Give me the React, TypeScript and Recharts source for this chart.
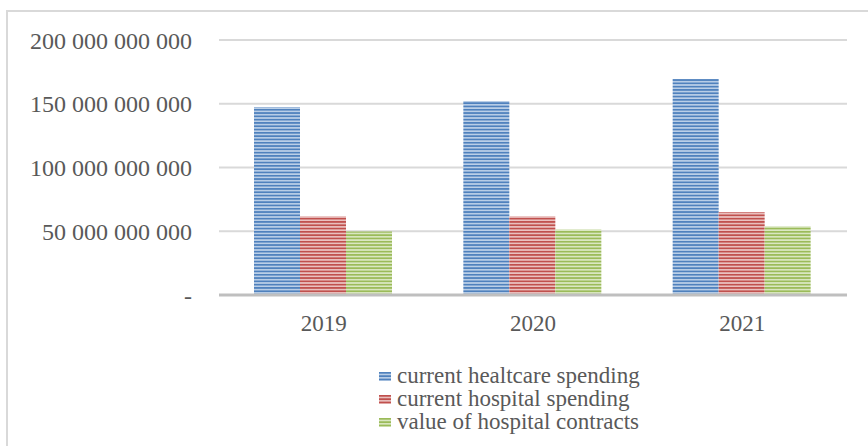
import React from 'react';
import { BarChart, Bar, XAxis, YAxis, CartesianGrid } from 'recharts';

const categories = ['2019', '2020', '2021'];
const healthcareSpending = [147.4e9, 152.1e9, 169.4e9];
const hospitalSpending = [61.7e9, 61.7e9, 64.9e9];
const hospitalContracts = [49.9e9, 51.3e9, 53.9e9];
const yTicks = [0, 50e9, 100e9, 150e9, 200e9];
const seriesNames = ['current healtcare spending', 'current hospital spending', 'value of hospital contracts'];

const data = categories.map((c, i) => ({
  year: c,
  a: healthcareSpending[i],
  b: hospitalSpending[i],
  c: hospitalContracts[i],
}));

const FONT = '"Liberation Serif", "Times New Roman", serif';
const TEXT = '#595959';

const palettes = [
  { id: 'pBlue', dark: '#4f81bd', light: '#bcd0e8' },
  { id: 'pRed', dark: '#c0504d', light: '#ebc3c2' },
  { id: 'pGreen', dark: '#9bbb59', light: '#dbe8c4' },
];

const fmt = (v: number) => {
  if (v === 0) return '-';
  return Math.round(v).toString().replace(/\B(?=(\d{3})+(?!\d))/g, ' ');
};

const LegendBlock = () => (
  <div
    style={{
      position: 'absolute',
      left: 379,
      top: 364,
      fontFamily: FONT,
      fontSize: 23,
      color: TEXT,
      lineHeight: '23px',
    }}
  >
    {seriesNames.map((n, i) => (
      <div key={n} style={{ display: 'flex', alignItems: 'center', height: 23, whiteSpace: 'nowrap' }}>
        <svg width={12} height={9} style={{ marginRight: 6, marginTop: 2 }}>
          <rect x={0} y={0} width={12} height={9} fill={`url(#${palettes[i].id})`} />
        </svg>
        <span>{n}</span>
      </div>
    ))}
  </div>
);

export default function App() {
  return (
    <div style={{ position: 'absolute', left: 0, top: 0, width: 868, height: 446, background: '#fff', overflow: 'hidden' }}>
      <div
        style={{
          position: 'absolute',
          left: 6,
          top: 10,
          width: 900,
          height: 500,
          borderLeft: '2px solid #d9d9d9',
          borderTop: '2px solid #d9d9d9',
        }}
      />
      <div style={{ position: 'absolute', left: 0, top: 0 }}>
        <BarChart
          width={868}
          height={446}
          data={data}
          margin={{ top: 40, right: 21, bottom: 121, left: 19 }}
          barCategoryGap={35}
          barGap={0}
        >
          <defs>
            {palettes.map((p) => (
              <pattern key={p.id} id={p.id} patternUnits="userSpaceOnUse" width={6} height={3.3}>
                <rect x={0} y={0} width={6} height={3.3} fill={p.light} />
                <rect x={0} y={0} width={6} height={1.7} fill={p.dark} />
              </pattern>
            ))}
          </defs>
          <CartesianGrid vertical={false} stroke="#d9d9d9" strokeWidth={2} />
          <XAxis
            dataKey="year"
            height={30}
            axisLine={{ stroke: '#bfbfbf', strokeWidth: 3 }}
            tickLine={false}
            tickSize={0}
            tickMargin={20}
            tick={{ fill: TEXT, fontSize: 23, fontFamily: FONT }}
          />
          <YAxis
            width={200}
            domain={[0, 200e9]}
            ticks={yTicks}
            axisLine={false}
            tickLine={false}
            tickSize={0}
            tickMargin={27}
            tickFormatter={fmt}
            tick={{ fill: TEXT, fontSize: 24, fontFamily: FONT }}
          />
          <Bar dataKey="a" name={seriesNames[0]} fill="url(#pBlue)" isAnimationActive={false} />
          <Bar dataKey="b" name={seriesNames[1]} fill="url(#pRed)" isAnimationActive={false} />
          <Bar dataKey="c" name={seriesNames[2]} fill="url(#pGreen)" isAnimationActive={false} />
        </BarChart>
      </div>
      <LegendBlock />
    </div>
  );
}
